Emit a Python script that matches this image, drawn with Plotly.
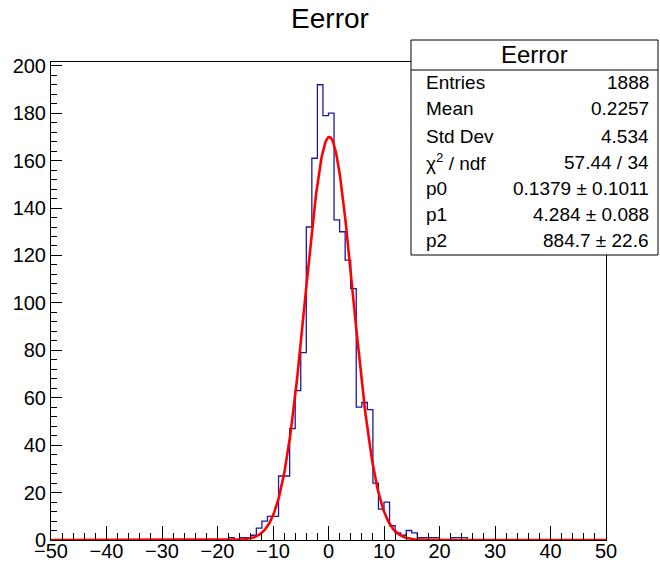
import numpy as np
import plotly.graph_objects as go

# ---------------- data ----------------
x_min, x_max, n_bins = -50, 50, 100
# counts of the non-empty region, starting at bin [-18,-17]
first_bin_low = -18
counts_core = [1, 0, 1, 1, 2, 5, 8, 10, 10, 27, 27, 47, 63, 79, 132, 161, 192, 179,
               180, 135, 130, 118, 106, 56, 58, 55, 24, 13, 16, 6, 3, 2, 4, 3,
               1, 1, 1, 1, 0, 0, 1, 1, 1, 0]

# fit parameters (from stats box) and curve peak
fit_mean = 0.1379
fit_sigma = 4.284
fit_peak = 170.0

stat_title = "Eerror"
stat_labels = ["Entries", "Mean", "Std Dev", "χ<sup>2</sup> / ndf", "p0", "p1", "p2"]
stat_values = ["1888", "0.2257", "4.534", "57.44 / 34", "0.1379 ± 0.1011",
               "4.284 ± 0.088", "884.7 ± 22.6"]

x_ticks = [-50, -40, -30, -20, -10, 0, 10, 20, 30, 40, 50]
y_ticks = [0, 20, 40, 60, 80, 100, 120, 140, 160, 180, 200]

# ---------------- build histogram ----------------
edges = np.linspace(x_min, x_max, n_bins + 1)
counts = np.zeros(n_bins)
start = first_bin_low - x_min
counts[start:start + len(counts_core)] = counts_core
step_x = list(edges)
step_y = list(counts) + [counts[-1]]

xf = np.linspace(x_min, x_max, 1001)
yf = fit_peak * np.exp(-0.5 * ((xf - fit_mean) / fit_sigma) ** 2)

FONT = "Liberation Sans, Arial, Helvetica, sans-serif"
W, H = 660, 562
L, R, T, B = 51, 606, 62, 540


def px(x):
    return (x - L) / (R - L)


def py(y):
    return (B - y) / (B - T)


fig = go.Figure()
fig.add_trace(go.Scatter(x=step_x, y=step_y, mode="lines", line_shape="hv",
                         line=dict(color="#1a1aa0", width=1.3), hoverinfo="skip",
                         showlegend=False))
fig.add_trace(go.Scatter(x=xf, y=yf, mode="lines",
                         line=dict(color="#ff0000", width=2.6), hoverinfo="skip",
                         showlegend=False))

ymax = 1.05 * max(counts)

axis_common = dict(showgrid=False, zeroline=False, showline=True, linecolor="black",
                   linewidth=1, mirror=True, ticks="inside", tickcolor="black",
                   automargin=False,
                   tickfont=dict(family=FONT, size=20, color="black"))

fig.update_xaxes(range=[x_min, x_max], tickvals=x_ticks, ticklen=14,
                 ticklabelstandoff=-7,
                 minor=dict(dtick=2, ticklen=7, ticks="inside", tickcolor="black",
                            tick0=0),
                 **axis_common)
fig.update_yaxes(range=[0, ymax], tickvals=y_ticks, ticklen=11,
                 minor=dict(dtick=4, ticklen=6, ticks="inside", tickcolor="black",
                            tick0=0),
                 **axis_common)

shapes = [
    dict(type="rect", xref="paper", yref="paper", x0=px(411), x1=px(658),
         y0=py(255), y1=py(40), fillcolor="white", line=dict(color="black", width=1),
         layer="above"),
    dict(type="line", xref="paper", yref="paper", x0=px(411), x1=px(658),
         y0=py(70), y1=py(70), line=dict(color="black", width=1), layer="above"),
]

annotations = [dict(text=stat_title, xref="paper", yref="paper", x=px(534.5), y=py(55),
                    xanchor="center", yanchor="middle", showarrow=False,
                    font=dict(family=FONT, size=24, color="black"))]
row_y = [82, 109, 136, 162, 188, 214, 240]
for lab, val, yy in zip(stat_labels, stat_values, row_y):
    annotations.append(dict(text=lab, xref="paper", yref="paper", x=px(424), y=py(yy),
                            xanchor="left", yanchor="middle", showarrow=False,
                            font=dict(family=FONT, size=19, color="black")))
    annotations.append(dict(text=val, xref="paper", yref="paper", x=px(651), y=py(yy),
                            xanchor="right", yanchor="middle", showarrow=False,
                            font=dict(family=FONT, size=19, color="black")))

fig.update_layout(
    width=W, height=H,
    margin=dict(l=L, r=W - R, t=T, b=H - B, pad=0, autoexpand=False),
    paper_bgcolor="white", plot_bgcolor="white",
    title=dict(text="Eerror", x=0.5, xref="container", xanchor="center",
               y=1 - 18 / H, yanchor="middle", yref="container",
               font=dict(family=FONT, size=28, color="black")),
    shapes=shapes, annotations=annotations,
    showlegend=False,
)

fig.write_html("out.html")
